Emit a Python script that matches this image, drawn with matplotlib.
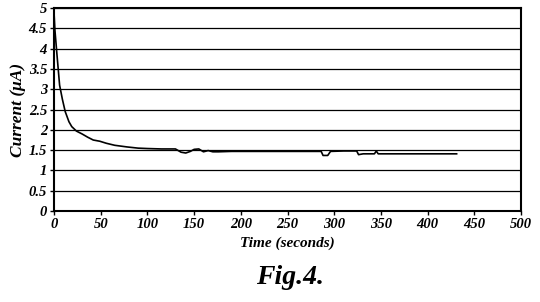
import matplotlib
matplotlib.use('Agg')
import matplotlib.pyplot as plt

# Current decay (time in s, current in uA)
time = [0, 1, 3, 6, 9, 12, 16, 19, 24, 30, 36, 42, 49, 56, 65, 78, 90, 100,
        115, 130, 136, 141, 146, 150, 155, 160, 165, 170, 176, 190, 220, 250,
        280, 286, 288, 293, 296, 310, 324, 326, 331, 340, 343, 345, 347, 360,
        390, 431]
current = [4.9, 4.45, 3.9, 3.1, 2.75, 2.45, 2.2, 2.08, 1.97, 1.9, 1.82, 1.75, 1.72,
           1.67, 1.62, 1.58, 1.55, 1.54, 1.53, 1.53, 1.45, 1.43, 1.47, 1.52, 1.53,
           1.46, 1.49, 1.46, 1.46, 1.47, 1.47, 1.47, 1.47, 1.47, 1.37, 1.37, 1.47,
           1.48, 1.48, 1.39, 1.41, 1.41, 1.41, 1.48, 1.41, 1.41, 1.41, 1.41]

xticks = [0, 50, 100, 150, 200, 250, 300, 350, 400, 450, 500]
yticks = [0, 0.5, 1, 1.5, 2, 2.5, 3, 3.5, 4, 4.5, 5]
ytick_labels = ['0', '0.5', '1', '1.5', '2', '2.5', '3', '3.5', '4', '4.5', '5']

plt.rcParams['font.family'] = ['Liberation Serif', 'DejaVu Serif']
plt.rcParams['font.weight'] = 'bold'
plt.rcParams['font.style'] = 'italic'

fig = plt.figure(figsize=(5.4, 3.02), dpi=100)
ax = fig.add_axes([0.1, 0.301, 0.865, 0.6725])

# Horizontal grid lines
for y in yticks:
    ax.axhline(y, color='black', lw=0.9, zorder=1)

ax.plot(time, current, color='black', lw=1.2, zorder=3)

ax.set_xlim(0, 500)
ax.set_ylim(0, 5)
ax.set_xticks(xticks)
ax.set_yticks(yticks)
ax.set_yticklabels(ytick_labels)
ax.tick_params(labelsize=10.5, length=3, width=1, color='black', pad=2)
for s in ax.spines.values():
    s.set_linewidth(1.5)

ax.set_xlabel('Time (seconds)', fontsize=11, fontweight='bold', style='italic', labelpad=4)
ax.set_ylabel('Current (\u03bcA)', fontsize=12.5, fontweight='bold', style='italic', labelpad=2)

fig.text(0.537, 0.06, 'Fig.4.', fontsize=20, fontweight='bold', style='italic', ha='center')

fig.savefig('out.png', dpi=100)
